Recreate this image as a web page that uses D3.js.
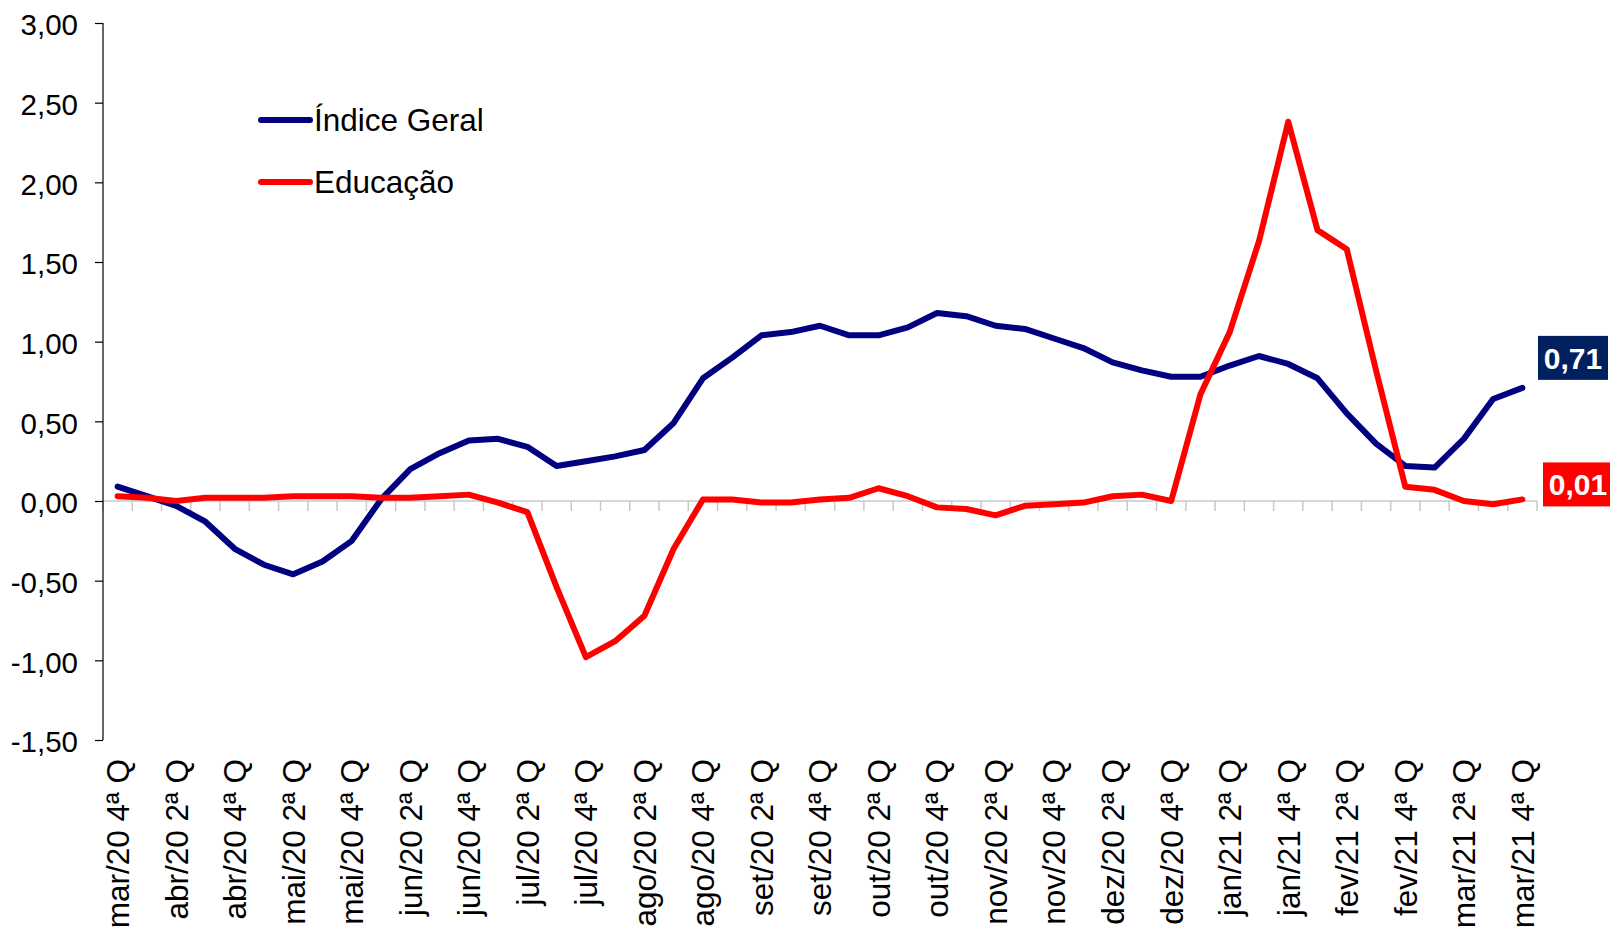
<!DOCTYPE html>
<html>
<head>
<meta charset="utf-8">
<script src="https://cdn.jsdelivr.net/npm/d3@7"></script>
<style>
  html, body { margin: 0; padding: 0; background: #fff; }
  svg { display: block; font-family: "Liberation Sans", Arial, sans-serif; }
</style>
</head>
<body>
<svg id="chart" width="1610" height="933"></svg>
<script>
// ---- data ----
const categories = [
  "mar/20 4ª Q","abr/20 1ª Q","abr/20 2ª Q","abr/20 3ª Q","abr/20 4ª Q",
  "mai/20 1ª Q","mai/20 2ª Q","mai/20 3ª Q","mai/20 4ª Q",
  "jun/20 1ª Q","jun/20 2ª Q","jun/20 3ª Q","jun/20 4ª Q",
  "jul/20 1ª Q","jul/20 2ª Q","jul/20 3ª Q","jul/20 4ª Q",
  "ago/20 1ª Q","ago/20 2ª Q","ago/20 3ª Q","ago/20 4ª Q",
  "set/20 1ª Q","set/20 2ª Q","set/20 3ª Q","set/20 4ª Q",
  "out/20 1ª Q","out/20 2ª Q","out/20 3ª Q","out/20 4ª Q",
  "nov/20 1ª Q","nov/20 2ª Q","nov/20 3ª Q","nov/20 4ª Q",
  "dez/20 1ª Q","dez/20 2ª Q","dez/20 3ª Q","dez/20 4ª Q",
  "jan/21 1ª Q","jan/21 2ª Q","jan/21 3ª Q","jan/21 4ª Q",
  "fev/21 1ª Q","fev/21 2ª Q","fev/21 3ª Q","fev/21 4ª Q",
  "mar/21 1ª Q","mar/21 2ª Q","mar/21 3ª Q","mar/21 4ª Q"
];
const indiceGeral = [
  0.09,0.03,-0.03,-0.13,-0.30,-0.40,-0.46,-0.38,-0.25,0.01,0.20,0.30,0.38,0.39,
  0.34,0.22,0.25,0.28,0.32,0.49,0.77,0.90,1.04,1.06,1.10,1.04,1.04,1.09,1.18,
  1.16,1.10,1.08,1.02,0.96,0.87,0.82,0.78,0.78,0.85,0.91,0.86,0.77,0.55,0.36,
  0.22,0.21,0.39,0.64,0.71
];
const educacao = [
  0.03,0.02,0.00,0.02,0.02,0.02,0.03,0.03,0.03,0.02,0.02,0.03,0.04,-0.01,
  -0.07,-0.54,-0.98,-0.88,-0.72,-0.30,0.01,0.01,-0.01,-0.01,0.01,0.02,0.08,
  0.03,-0.04,-0.05,-0.09,-0.03,-0.02,-0.01,0.03,0.04,0.00,0.67,1.06,1.63,
  2.38,1.70,1.58,0.82,0.09,0.07,0.00,-0.02,0.01
];
const yTicks = [-1.5,-1.0,-0.5,0,0.5,1.0,1.5,2.0,2.5,3.0];
const seriesNames = ["Índice Geral","Educação"];
const seriesColors = ["#000080","#ff0000"];
const labelBoxColors = ["#002060","#ff0000"];

// ---- layout ----
const svg = d3.select("#chart");
const pLeft = 103, pRight = 1537, pTop = 23, pBottom = 740;

const x = d3.scaleBand().domain(categories).range([pLeft, pRight]).padding(0);
const y = d3.scaleLinear().domain([-1.5, 3.0]).range([pBottom, pTop]);
const cx = c => x(c) + x.bandwidth() / 2;

const fmt = v => d3.format(".2f")(v).replace(".", ",").replace("−", "-");

// zero line with category ticks
svg.append("line")
  .attr("x1", pLeft).attr("x2", pRight)
  .attr("y1", y(0)).attr("y2", y(0))
  .attr("stroke", "#c8c8c8").attr("stroke-width", 1.5);
const bounds = categories.map(c => x(c)).concat([pRight]);
svg.append("g").selectAll("line").data(bounds).join("line")
  .attr("x1", d => d).attr("x2", d => d)
  .attr("y1", y(0)).attr("y2", y(0) + 10)
  .attr("stroke", "#c8c8c8").attr("stroke-width", 1.5);

// y axis
const yAxis = d3.axisLeft(y).tickValues(yTicks).tickSize(8).tickPadding(17).tickFormat(fmt);
const gy = svg.append("g").attr("transform", `translate(${pLeft},0)`).call(yAxis);
gy.select(".domain").attr("stroke", "#000").attr("stroke-width", 1.2).attr("d", `M0,${pTop}V${pBottom}`);
gy.selectAll(".tick line").attr("stroke", "#000").attr("stroke-width", 1.2);
gy.selectAll(".tick text").attr("font-size", 29.5).attr("fill", "#000").attr("dy", "0.4em")
  .attr("font-family", "'Liberation Sans', Arial, sans-serif");

// x labels (every other category)
svg.append("g").selectAll("text").data(categories.filter((c, i) => i % 2 === 0)).join("text")
  .attr("transform", d => `translate(${cx(d)},759) rotate(-90)`)
  .attr("text-anchor", "end")
  .attr("dy", "0.36em")
  .attr("font-size", 31.5)
  .attr("fill", "#000")
  .text(d => d);

// lines
const line = d3.line().x((d, i) => cx(categories[i])).y(d => y(d)).curve(d3.curveLinear);
[indiceGeral, educacao].forEach((s, k) => {
  svg.append("path").datum(s)
    .attr("d", line)
    .attr("fill", "none")
    .attr("stroke", seriesColors[k])
    .attr("stroke-width", 6)
    .attr("stroke-linejoin", "round")
    .attr("stroke-linecap", "round");
});

// legend
const legend = svg.append("g");
[0, 1].forEach(k => {
  const ly = 120 + k * 62;
  legend.append("line").attr("x1", 261).attr("x2", 310).attr("y1", ly).attr("y2", ly)
    .attr("stroke", seriesColors[k]).attr("stroke-width", 6).attr("stroke-linecap", "round");
  legend.append("text").attr("x", 314).attr("y", ly).attr("dy", "0.36em")
    .attr("font-size", 31.5).attr("fill", "#000").text(seriesNames[k]);
});

// end value labels
const lastIdx = categories.length - 1;
const offsets = [-30, -15];
[indiceGeral, educacao].forEach((s, k) => {
  const v = s[lastIdx];
  const cyv = y(v) + offsets[k];
  const bx = k === 0 ? 1538 : 1543;
  const bw = k === 0 ? 70 : 72;
  svg.append("rect").attr("x", bx).attr("y", cyv - 22).attr("width", bw).attr("height", 44)
    .attr("fill", labelBoxColors[k]);
  svg.append("text").attr("x", bx + 35).attr("y", cyv).attr("dy", "0.36em")
    .attr("text-anchor", "middle").attr("font-size", 30).attr("font-weight", "bold")
    .attr("fill", "#fff").text(fmt(v));
});
</script>
</body>
</html>
